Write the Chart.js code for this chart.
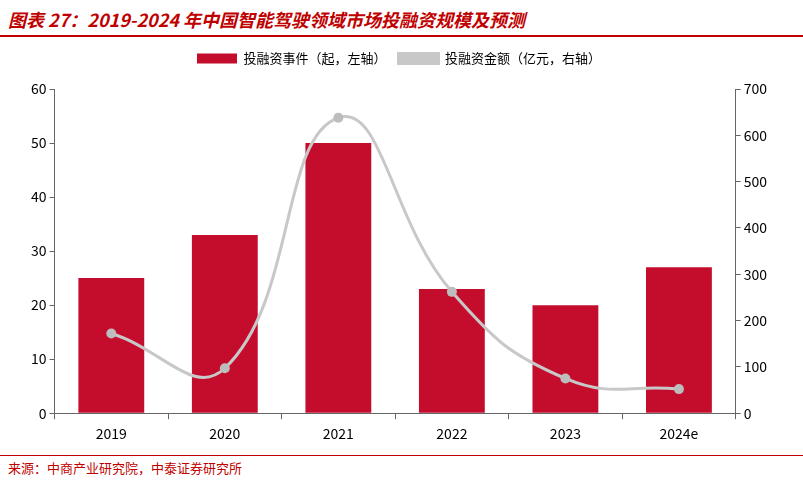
<!DOCTYPE html><html><head><meta charset="utf-8">
<script src="https://cdn.jsdelivr.net/npm/chart.js@4"></script>
<style>
body{margin:0;width:803px;height:480px;background:#fff;font-family:"Noto Sans CJK SC",sans-serif;position:relative;overflow:hidden}
#t{position:absolute;left:8px;top:6px;font-size:18px;font-weight:bold;font-style:italic;color:#c00000;white-space:nowrap}
#l1{position:absolute;left:0;top:35px;width:803px;height:2px;background:#c00000}
#l2{position:absolute;left:0;top:455px;width:803px;height:1px;background:#c00000}
#f{position:absolute;left:8px;top:458px;font-size:13px;color:#c00000}
#w{position:absolute;left:0;top:40px;width:803px;height:408px}
</style></head><body>
<div id="t">图表 27：2019-2024 年中国智能驾驶领域市场投融资规模及预测</div>
<div id="l1"></div>
<div id="w"><canvas id="c"></canvas></div>
<div id="l2"></div>
<div id="f">来源：中商产业研究院，中泰证券研究所</div>
<script>
const categories=['2019','2020','2021','2022','2023','2024e'];
const events=[25,33,50,23,20,27];
const amounts=[172,97,638,262,75,52];
const leftTicks=[0,10,20,30,40,50,60];
Chart.defaults.font.family='"Noto Sans CJK SC","Liberation Sans",sans-serif';
Chart.defaults.color='#000';
new Chart(document.getElementById('c'),{
data:{labels:categories,datasets:[
{type:'line',label:'投融资金额（亿元，右轴）',data:amounts,yAxisID:'y1',borderColor:'#c8c8c8',backgroundColor:'#c8c8c8',borderWidth:3,pointRadius:5,pointBackgroundColor:'#bdbdbd',pointBorderWidth:0,tension:0.45,order:0},
{type:'bar',label:'投融资事件（起，左轴）',data:events,yAxisID:'y',backgroundColor:'#c40d2d',categoryPercentage:1,barPercentage:0.58,order:1}
]},
plugins:[{id:'sp',beforeInit(chart){const f=chart.legend.fit;chart.legend.fit=function(){f.call(this);this.height+=14;};}}],
options:{responsive:true,maintainAspectRatio:false,animation:false,
layout:{padding:{left:28,right:33,top:0,bottom:0}},
plugins:{legend:{reverse:true,labels:{font:{size:13},boxWidth:40,boxHeight:10,padding:12}},tooltip:{enabled:false}},
scales:{
x:{grid:{display:true,drawOnChartArea:false,offset:true,color:'#666',tickLength:6},border:{color:'#666'},ticks:{font:{size:14},padding:6}},
y:{position:'left',min:0,max:60,afterBuildTicks:a=>{a.ticks=leftTicks.map(v=>({value:v}))},grid:{drawOnChartArea:false,color:'#666',tickLength:5},border:{color:'#666'},ticks:{font:{size:14}}},
y1:{position:'right',min:0,max:700,grid:{drawOnChartArea:false,color:'#666',tickLength:5},border:{color:'#666'},ticks:{font:{size:14},stepSize:100}}
}}
});
</script></body></html>
